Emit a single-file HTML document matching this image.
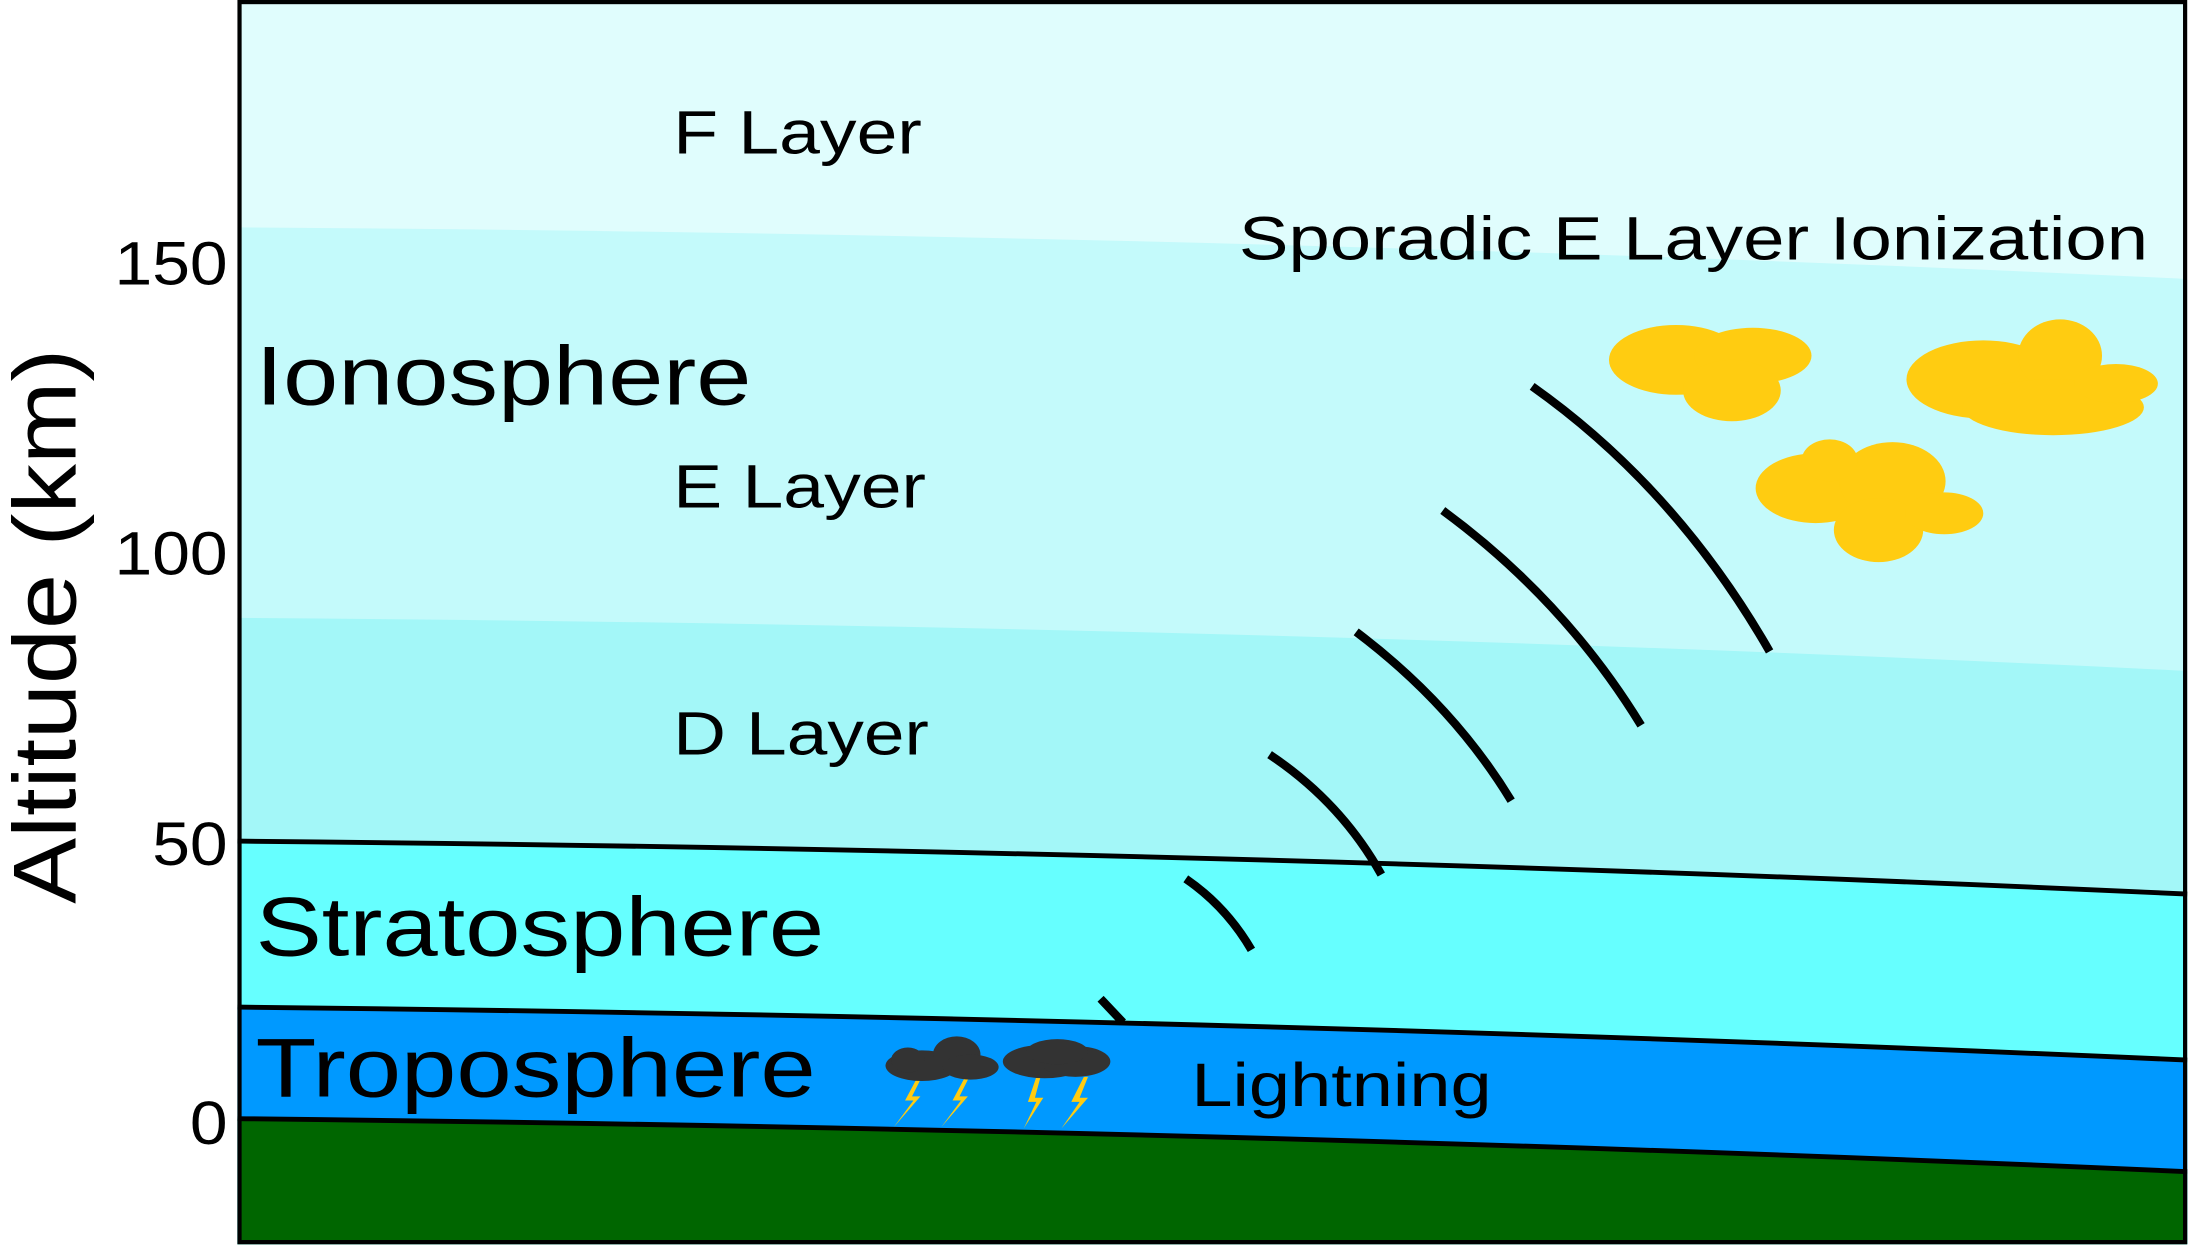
<!DOCTYPE html>
<html><head><meta charset="utf-8"><style>
html,body{margin:0;padding:0;background:#fff;}
svg{display:block;}
text{font-family:"Liberation Sans",sans-serif;fill:#000;}
</style></head><body>
<svg width="2190" height="1247" viewBox="0 0 1568 894" preserveAspectRatio="none" xmlns="http://www.w3.org/2000/svg">
<rect x="0" y="0" width="1568" height="894" fill="#fff"/>
<g>
<rect x="170" y="0" width="1396" height="892" fill="#e0fdfd"/>
<path d="M170,163 Q900,168 1566,200 L1566,892 L170,892Z" fill="#c4fafb"/>
<path d="M170,443 Q900,448 1566,481 L1566,892 L170,892Z" fill="#a3f7f8"/>
<path d="M170,603 Q900,610 1566,641 L1566,892 L170,892Z" fill="#66ffff"/>
<path d="M170,722 Q900,730 1566,760 L1566,892 L170,892Z" fill="#0099ff"/>
<path d="M170,802 Q900,810 1566,840 L1566,892 L170,892Z" fill="#006600"/>
<path d="M170,603 Q900,610 1566,641" fill="none" stroke="#000" stroke-width="3.5"/>
<path d="M170,722 Q900,730 1566,760" fill="none" stroke="#000" stroke-width="3.5"/>
<path d="M170,802 Q900,810 1566,840" fill="none" stroke="#000" stroke-width="3.5"/>
</g>
<g fill="none" stroke="#000" stroke-width="6">
<path d="M1097,277 Q1200,350 1267,467"/>
<path d="M1033,366 Q1120,430 1175,520"/>
<path d="M971,453 Q1040,505 1082,574"/>
<path d="M909,541 Q960,575 989,627"/>
<path d="M849,630 Q878,650 896,681"/>
<path d="M788,716 L804,733"/>
</g>
<g fill="#ffcc11">
<ellipse cx="1200" cy="258" rx="48" ry="25"/><ellipse cx="1255" cy="255" rx="42" ry="20"/><ellipse cx="1240" cy="280" rx="35" ry="22"/>
<ellipse cx="1420" cy="272" rx="55" ry="28"/><ellipse cx="1475" cy="255" rx="30" ry="26"/><ellipse cx="1470" cy="292" rx="65" ry="20"/><ellipse cx="1515" cy="275" rx="30" ry="14"/>
<ellipse cx="1300" cy="350" rx="43" ry="25"/><ellipse cx="1355" cy="345" rx="38" ry="28"/><ellipse cx="1345" cy="380" rx="32" ry="23"/><ellipse cx="1392" cy="368" rx="28" ry="15"/><ellipse cx="1310" cy="330" rx="20" ry="15"/>
</g>
<g fill="#ffcc11">
<path d="M657,772 L648,789 L654,789 L640,808 L659,786 L653,786 L660,772Z"/>
<path d="M691,772 L682,789 L688,789 L674,808 L693,786 L687,786 L694,772Z"/>
<path d="M742,772 L736,790 L742,790 L733,809 L747,787 L741,787 L745,772Z"/>
<path d="M776,772 L767,790 L773,790 L760,809 L779,787 L773,787 L779,772Z"/>
</g>
<g fill="#333">
<ellipse cx="660" cy="764" rx="26" ry="11"/><ellipse cx="685" cy="756" rx="17" ry="13"/><ellipse cx="695" cy="765" rx="20" ry="9"/><ellipse cx="650" cy="760" rx="12" ry="9"/>
<ellipse cx="748" cy="761" rx="30" ry="12"/><ellipse cx="770" cy="761" rx="25" ry="11"/><ellipse cx="757" cy="754" rx="22" ry="9"/>
</g>
<rect x="171.5" y="1.5" width="1393" height="889" fill="none" stroke="#000" stroke-width="3"/>
<text x="482" y="110" font-size="44" textLength="178" lengthAdjust="spacingAndGlyphs">F Layer</text>
<text x="887" y="186" font-size="44" textLength="651" lengthAdjust="spacingAndGlyphs">Sporadic E Layer Ionization</text>
<text x="183" y="290" font-size="60" textLength="355" lengthAdjust="spacingAndGlyphs">Ionosphere</text>
<text x="482" y="364" font-size="44" textLength="181" lengthAdjust="spacingAndGlyphs">E Layer</text>
<text x="482" y="541" font-size="44" textLength="183" lengthAdjust="spacingAndGlyphs">D Layer</text>
<text x="183" y="685" font-size="60" textLength="407" lengthAdjust="spacingAndGlyphs">Stratosphere</text>
<text x="183" y="786" font-size="60" textLength="401" lengthAdjust="spacingAndGlyphs">Troposphere</text>
<text x="853" y="793" font-size="44" textLength="215" lengthAdjust="spacingAndGlyphs">Lightning</text>
<text x="82" y="204" font-size="44" textLength="81" lengthAdjust="spacingAndGlyphs">150</text>
<text x="82" y="412" font-size="44" textLength="81" lengthAdjust="spacingAndGlyphs">100</text>
<text x="109" y="620" font-size="44" textLength="54" lengthAdjust="spacingAndGlyphs">50</text>
<text x="136" y="820" font-size="44" textLength="27" lengthAdjust="spacingAndGlyphs">0</text>
<text x="0" y="0" font-size="64" text-anchor="middle" textLength="398" lengthAdjust="spacingAndGlyphs" transform="translate(54,449) rotate(-90)">Altitude (km)</text>
</svg>
</body></html>
